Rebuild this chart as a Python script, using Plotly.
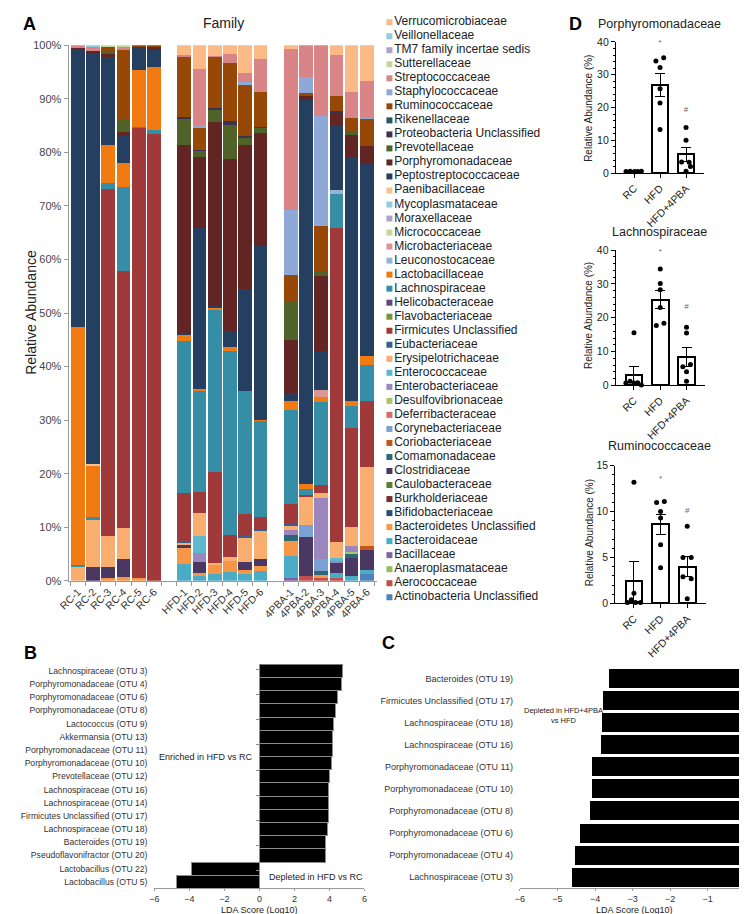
import plotly.graph_objects as go

W, H = 747, 914
FONT = "Arial, Liberation Sans, sans-serif"

# ---- Panel A : family composition (legend order, top to bottom) ----
families = [
    "Verrucomicrobiaceae", "Veillonellaceae", "TM7 family incertae sedis", "Sutterellaceae",
    "Streptococcaceae", "Staphylococcaceae", "Ruminococcaceae", "Rikenellaceae",
    "Proteobacteria Unclassified", "Prevotellaceae", "Porphyromonadaceae", "Peptostreptococcaceae",
    "Paenibacillaceae", "Mycoplasmataceae", "Moraxellaceae", "Micrococcaceae",
    "Microbacteriaceae", "Leuconostocaceae", "Lactobacillaceae", "Lachnospiraceae",
    "Helicobacteraceae", "Flavobacteriaceae", "Firmicutes Unclassified", "Eubacteriaceae",
    "Erysipelotrichaceae", "Enterococcaceae", "Enterobacteriaceae", "Desulfovibrionaceae",
    "Deferribacteraceae", "Corynebacteriaceae", "Coriobacteriaceae", "Comamonadaceae",
    "Clostridiaceae", "Caulobacteraceae", "Burkholderiaceae", "Bifidobacteriaceae",
    "Bacteroidetes Unclassified", "Bacteroidaceae", "Bacillaceae", "Anaeroplasmataceae",
    "Aerococcaceae", "Actinobacteria Unclassified",
]
family_colors = [
    "#FBB986", "#92CDDC", "#B1A0C7", "#C4D79B",
    "#D98587", "#8EA9D8", "#974706", "#215967",
    "#3F3151", "#4F6228", "#632523", "#243F60",
    "#FAC090", "#93CDDD", "#B3A2C7", "#C3D69B",
    "#D99694", "#95B3D7", "#F27A12", "#358DA6",
    "#604A7B", "#76923C", "#A03A3A", "#376092",
    "#F9AD6F", "#5DB8D0", "#9B87BD", "#A9C66B",
    "#CF6E6C", "#7BA0D4", "#C0591C", "#2B6878",
    "#4A3863", "#5E7A2E", "#7A2C2A", "#2C4D75",
    "#F79646", "#4BACC6", "#8064A2", "#9BBB59",
    "#C0504D", "#4F81BD",
]

samples = ["RC-1", "RC-2", "RC-3", "RC-4", "RC-5", "RC-6",
           "HFD-1", "HFD-2", "HFD-3", "HFD-4", "HFD-5", "HFD-6",
           "4PBA-1", "4PBA-2", "4PBA-3", "4PBA-4", "4PBA-5", "4PBA-6"]
sample_pos = [0, 1, 2, 3, 4, 5, 7, 8, 9, 10, 11, 12, 14, 15, 16, 17, 18, 19]
pct_ticks = list(range(0, 101, 10))

# relative abundance (%) per sample
rc1 = {"Erysipelotrichaceae": 2.5, "Lachnospiraceae": 0.5, "Lactobacillaceae": 44.3,
       "Peptostreptococcaceae": 52.0, "Porphyromonadaceae": 0.2, "Streptococcaceae": 0.5}
rc2 = {"Clostridiaceae": 2.6, "Erysipelotrichaceae": 8.7, "Lachnospiraceae": 0.7, "Lactobacillaceae": 9.5,
       "Paenibacillaceae": 0.3, "Peptostreptococcaceae": 76.8, "Porphyromonadaceae": 0.4,
       "Streptococcaceae": 0.6, "Veillonellaceae": 0.4}
rc3 = {"Bacteroidetes Unclassified": 0.5, "Clostridiaceae": 2.0, "Erysipelotrichaceae": 5.8,
       "Firmicutes Unclassified": 64.8, "Lachnospiraceae": 1.1, "Lactobacillaceae": 7.2,
       "Peptostreptococcaceae": 16.4, "Porphyromonadaceae": 0.5, "Prevotellaceae": 0.4,
       "Ruminococcaceae": 1.0, "Sutterellaceae": 0.3}
rc4 = {"Bacteroidetes Unclassified": 0.7, "Clostridiaceae": 3.4, "Erysipelotrichaceae": 5.7,
       "Firmicutes Unclassified": 48.1, "Lachnospiraceae": 15.6, "Lactobacillaceae": 4.5,
       "Peptostreptococcaceae": 5.3, "Porphyromonadaceae": 0.5, "Prevotellaceae": 2.3,
       "Ruminococcaceae": 13.1, "Streptococcaceae": 0.4, "Sutterellaceae": 0.4}
rc5 = {"Bacteroidetes Unclassified": 0.6, "Firmicutes Unclassified": 83.9, "Lachnospiraceae": 0.2,
       "Lactobacillaceae": 10.6, "Peptostreptococcaceae": 4.5, "Ruminococcaceae": 0.2}
rc6 = {"Firmicutes Unclassified": 83.4, "Lachnospiraceae": 0.8, "Lactobacillaceae": 11.8,
       "Peptostreptococcaceae": 3.2, "Porphyromonadaceae": 0.5, "Ruminococcaceae": 0.3}
hfd1 = {"Bacteroidaceae": 3.2, "Bacteroidetes Unclassified": 3.0, "Clostridiaceae": 0.4,
        "Erysipelotrichaceae": 0.4, "Eubacteriaceae": 0.3, "Firmicutes Unclassified": 9.0,
        "Lachnospiraceae": 28.5, "Lactobacillaceae": 1.1, "Peptostreptococcaceae": 0.2,
        "Porphyromonadaceae": 35.2, "Prevotellaceae": 5.0, "Proteobacteria Unclassified": 0.4,
        "Ruminococcaceae": 11.2, "Streptococcaceae": 0.3, "Verrucomicrobiaceae": 1.8}
hfd2 = {"Bacteroidaceae": 0.8, "Bacteroidetes Unclassified": 0.7, "Clostridiaceae": 2.0,
        "Enterobacteriaceae": 1.6, "Enterococcaceae": 3.3, "Erysipelotrichaceae": 4.2,
        "Firmicutes Unclassified": 4.0, "Lachnospiraceae": 18.9, "Lactobacillaceae": 0.4,
        "Peptostreptococcaceae": 30.0, "Porphyromonadaceae": 13.3, "Prevotellaceae": 1.1,
        "Proteobacteria Unclassified": 0.2, "Ruminococcaceae": 4.1, "Staphylococcaceae": 0.6,
        "Streptococcaceae": 10.3, "Verrucomicrobiaceae": 4.5}
hfd3 = {"Bacteroidaceae": 1.3, "Bacteroidetes Unclassified": 1.7, "Erysipelotrichaceae": 0.4,
        "Firmicutes Unclassified": 16.9, "Lachnospiraceae": 30.2, "Lactobacillaceae": 0.4,
        "Peptostreptococcaceae": 0.4, "Porphyromonadaceae": 34.3, "Prevotellaceae": 2.4,
        "Proteobacteria Unclassified": 0.3, "Ruminococcaceae": 9.5, "Streptococcaceae": 0.2,
        "Verrucomicrobiaceae": 2.0}
hfd4 = {"Bacteroidaceae": 1.6, "Bacteroidetes Unclassified": 2.0, "Erysipelotrichaceae": 0.9,
        "Firmicutes Unclassified": 4.1, "Lachnospiraceae": 34.4, "Lactobacillaceae": 0.6,
        "Peptostreptococcaceae": 3.1, "Porphyromonadaceae": 32.1, "Prevotellaceae": 6.4,
        "Proteobacteria Unclassified": 0.7, "Ruminococcaceae": 10.7, "Streptococcaceae": 1.7,
        "Verrucomicrobiaceae": 1.7}
hfd5 = {"Bacteroidaceae": 1.3, "Bacteroidetes Unclassified": 0.7, "Clostridiaceae": 1.5,
        "Erysipelotrichaceae": 4.5, "Eubacteriaceae": 0.3, "Firmicutes Unclassified": 4.2,
        "Lachnospiraceae": 23.0, "Peptostreptococcaceae": 18.9, "Porphyromonadaceae": 26.9,
        "Prevotellaceae": 1.5, "Proteobacteria Unclassified": 0.3, "Ruminococcaceae": 9.5,
        "Staphylococcaceae": 0.5, "Streptococcaceae": 1.7, "Verrucomicrobiaceae": 5.2}
hfd6 = {"Bacteroidaceae": 1.8, "Bacteroidetes Unclassified": 1.0, "Clostridiaceae": 1.2,
        "Erysipelotrichaceae": 5.3, "Eubacteriaceae": 0.3, "Firmicutes Unclassified": 2.3,
        "Lachnospiraceae": 17.9, "Lactobacillaceae": 0.3, "Peptostreptococcaceae": 32.4,
        "Porphyromonadaceae": 21.1, "Prevotellaceae": 1.0, "Proteobacteria Unclassified": 0.2,
        "Ruminococcaceae": 6.4, "Streptococcaceae": 6.3, "Verrucomicrobiaceae": 2.5}
pba1 = {"Bacillaceae": 0.5, "Bacteroidaceae": 4.1, "Bacteroidetes Unclassified": 2.8, "Comamonadaceae": 1.1,
        "Enterobacteriaceae": 0.9, "Erysipelotrichaceae": 0.9, "Eubacteriaceae": 0.3,
        "Firmicutes Unclassified": 3.8, "Lachnospiraceae": 17.4, "Lactobacillaceae": 1.8,
        "Peptostreptococcaceae": 1.4, "Porphyromonadaceae": 10.0, "Prevotellaceae": 7.2,
        "Ruminococcaceae": 4.9, "Staphylococcaceae": 12.2, "Streptococcaceae": 30.0,
        "Verrucomicrobiaceae": 0.7}
pba2 = {"Aerococcaceae": 0.8, "Clostridiaceae": 7.4, "Corynebacteriaceae": 2.3, "Erysipelotrichaceae": 5.1,
        "Firmicutes Unclassified": 0.4, "Lachnospiraceae": 1.2, "Lactobacillaceae": 0.8,
        "Peptostreptococcaceae": 71.7, "Porphyromonadaceae": 0.8, "Ruminococcaceae": 0.5,
        "Staphylococcaceae": 3.0, "Streptococcaceae": 6.0}
pba3 = {"Aerococcaceae": 0.6, "Bacteroidetes Unclassified": 0.5, "Comamonadaceae": 0.8,
        "Corynebacteriaceae": 2.2, "Enterobacteriaceae": 11.4, "Erysipelotrichaceae": 0.9,
        "Firmicutes Unclassified": 1.5, "Lachnospiraceae": 15.5, "Lactobacillaceae": 1.0,
        "Microbacteriaceae": 1.2, "Peptostreptococcaceae": 7.4, "Porphyromonadaceae": 14.0,
        "Prevotellaceae": 0.8, "Ruminococcaceae": 8.4, "Staphylococcaceae": 20.6,
        "Streptococcaceae": 13.2}
pba4 = {"Aerococcaceae": 0.5, "Bacteroidaceae": 0.9, "Clostridiaceae": 2.0, "Enterobacteriaceae": 0.3,
        "Enterococcaceae": 0.5, "Erysipelotrichaceae": 3.0, "Firmicutes Unclassified": 58.7,
        "Lachnospiraceae": 6.3, "Leuconostocaceae": 0.8, "Peptostreptococcaceae": 12.1,
        "Porphyromonadaceae": 2.2, "Proteobacteria Unclassified": 0.4, "Ruminococcaceae": 2.8,
        "Streptococcaceae": 7.7, "Verrucomicrobiaceae": 1.8}
pba5 = {"Bacteroidaceae": 0.8, "Clostridiaceae": 3.4, "Comamonadaceae": 0.8, "Desulfovibrionaceae": 0.3,
        "Enterobacteriaceae": 1.2, "Erysipelotrichaceae": 3.5, "Firmicutes Unclassified": 18.6,
        "Lachnospiraceae": 4.1, "Lactobacillaceae": 0.9, "Peptostreptococcaceae": 45.5,
        "Porphyromonadaceae": 4.1, "Prevotellaceae": 0.6, "Ruminococcaceae": 2.7,
        "Streptococcaceae": 4.8, "Verrucomicrobiaceae": 8.7}
pba6 = {"Actinobacteria Unclassified": 1.2, "Bacteroidaceae": 0.8, "Clostridiaceae": 3.8,
        "Coriobacteriaceae": 0.6, "Erysipelotrichaceae": 14.8, "Firmicutes Unclassified": 12.4,
        "Lachnospiraceae": 6.6, "Lactobacillaceae": 1.8, "Peptostreptococcaceae": 35.9,
        "Porphyromonadaceae": 3.2, "Ruminococcaceae": 5.1, "Staphylococcaceae": 0.3,
        "Streptococcaceae": 6.8, "Verrucomicrobiaceae": 6.7}
composition = [rc1, rc2, rc3, rc4, rc5, rc6, hfd1, hfd2, hfd3, hfd4, hfd5, hfd6,
               pba1, pba2, pba3, pba4, pba5, pba6]

# ---- Panel B : LDA scores HFD vs RC ----
b_labels = ["Lachnospiraceae (OTU 3)", "Porphyromonadaceae (OTU 4)", "Porphyromonadaceae (OTU 6)",
            "Porphyromonadaceae (OTU 8)", "Lactococcus (OTU 9)", "Akkermansia (OTU 13)",
            "Porphyromonadaceae (OTU 11)", "Porphyromonadaceae (OTU 10)", "Prevotellaceae (OTU 12)",
            "Lachnospiraceae (OTU 16)", "Lachnospiraceae (OTU 14)", "Firmicutes Unclassified (OTU 17)",
            "Lachnospiraceae (OTU 18)", "Bacteroides (OTU 19)", "Pseudoflavonifractor (OTU 20)",
            "Lactobacillus (OTU 22)", "Lactobacillus (OTU 5)"]
b_scores = [4.75, 4.68, 4.49, 4.36, 4.21, 4.18, 4.16, 4.12, 4.03, 3.97, 3.95, 3.93, 3.88,
            3.80, 3.80, -3.88, -4.72]

# ---- Panel C : LDA scores HFD+4PBA vs HFD ----
c_labels = ["Bacteroides (OTU 19)", "Firmicutes Unclassified (OTU 17)", "Lachnospiraceae (OTU 18)",
            "Lachnospiraceae (OTU 16)", "Porphyromonadaceae (OTU 11)", "Porphyromonadaceae (OTU 10)",
            "Porphyromonadaceae (OTU 8)", "Porphyromonadaceae (OTU 6)", "Porphyromonadaceae (OTU 4)",
            "Lachnospiraceae (OTU 3)"]
c_scores = [-3.63, -3.78, -3.81, -3.83, -4.07, -4.08, -4.13, -4.39, -4.54, -4.60]

# ---- Panel D : group means, SEM and individual mice ----
groups = ["RC", "HFD", "HFD+4PBA"]
porph_mean = [0.5, 27.0, 5.7]
porph_sem = [0.1, 3.5, 2.1]
porph_pts = [[0.5, 0.6, 0.4, 0.5, 0.6, 0.4], [34.2, 35.2, 32.2, 25.7, 21.4, 13.3], [13.9, 10.0, 3.4, 3.3, 2.0, 0.6]]
porph_jit = [[-0.31, -0.15, 0.0, 0.14, 0.28, 0.05], [-0.16, 0.14, 0.0, 0.0, 0.0, 0.0], [0.0, 0.0, -0.17, 0.12, 0.17, 0.0]]
porph_marks = [39.6, 19.4]
lachno_mean = [3.0, 25.3, 8.3]
lachno_sem = [2.6, 2.7, 2.8]
lachno_pts = [[15.6, 0.7, 1.2, 0.7, 0.8, 0.1], [34.4, 30.1, 28.3, 23.0, 17.7, 18.4], [17.2, 15.5, 5.5, 6.2, 4.0, 1.2]]
lachno_jit = [[0.0, -0.31, -0.15, 0.0, 0.14, 0.28], [0.0, 0.0, 0.0, 0.0, -0.15, 0.14], [0.0, 0.0, -0.14, 0.15, 0.0, 0.0]]
lachno_marks = [39.5, 23.2]
rumino_mean = [2.4, 8.6, 4.0]
rumino_sem = [2.2, 1.1, 1.1]
rumino_pts = [[13.2, 1.1, 0.1, 0.4, 0.1, 0.1], [11.0, 11.1, 10.0, 9.3, 6.4, 3.9], [8.4, 5.0, 5.0, 2.9, 2.7, 0.5]]
rumino_jit = [[0.0, 0.0, -0.25, -0.1, 0.06, 0.25], [-0.15, 0.14, 0.0, 0.0, 0.0, 0.0], [0.0, -0.16, 0.15, -0.16, 0.15, 0.0]]
rumino_marks = [13.5, 10.1]


def xd(a, b):
    return [a / W, b / W]


def yd(top, bottom):
    return [1 - bottom / H, 1 - top / H]


fig = go.Figure()

# stacked bars, bottom of the stack = last legend entry
for fam, col in zip(reversed(families), reversed(family_colors)):
    fig.add_trace(go.Bar(x=sample_pos, y=[s.get(fam, 0) for s in composition], name=fam,
                         marker=dict(color=col, line=dict(width=0)), width=0.9,
                         showlegend=False, xaxis="x", yaxis="y"))

# hand-made legend (tighter spacing than plotly's own)
fig.add_trace(go.Scatter(x=[0] * len(families), y=list(range(len(families))), mode="markers+text",
                         marker=dict(symbol="square", size=6, color=family_colors),
                         text=families, textposition="middle right",
                         textfont=dict(size=12, color="#222", family=FONT),
                         showlegend=False, hoverinfo="skip", xaxis="x2", yaxis="y2", cliponaxis=False))

# panel D
d_sets = [(porph_mean, porph_sem, porph_pts, porph_jit, porph_marks, "3"),
          (lachno_mean, lachno_sem, lachno_pts, lachno_jit, lachno_marks, "4"),
          (rumino_mean, rumino_sem, rumino_pts, rumino_jit, rumino_marks, "5")]
for mean, sem, pts, jit, marks, ax in d_sets:
    fig.add_trace(go.Bar(x=[0, 1, 2], y=mean, width=0.63,
                         marker=dict(color="white", line=dict(color="black", width=2)),
                         error_y=dict(type="data", array=sem, color="black", thickness=1, width=5),
                         showlegend=False, xaxis="x" + ax, yaxis="y" + ax))
    xs, ys = [], []
    for g in range(3):
        xs += [g + j for j in jit[g]]
        ys += pts[g]
    fig.add_trace(go.Scatter(x=xs, y=ys, mode="markers", marker=dict(color="black", size=5),
                             showlegend=False, xaxis="x" + ax, yaxis="y" + ax, cliponaxis=False))
    fig.add_trace(go.Scatter(x=[1, 2], y=marks, mode="text", text=["*", "#"],
                             textfont=dict(size=8, color="#666", family=FONT),
                             showlegend=False, xaxis="x" + ax, yaxis="y" + ax, cliponaxis=False))

# panels B and C
fig.add_trace(go.Bar(x=b_scores, y=b_labels, orientation="h", width=1.0,
                     marker=dict(color="black", line=dict(color="#8c8c8c", width=1)),
                     showlegend=False, xaxis="x6", yaxis="y6"))
fig.add_trace(go.Bar(x=c_scores, y=c_labels, orientation="h", width=0.86,
                     marker=dict(color="black", line=dict(width=0)),
                     showlegend=False, xaxis="x7", yaxis="y7"))
# empty traces that carry the category axes drawn at x = 0 (ticks between rows)
fig.add_trace(go.Scatter(x=[0] * len(b_labels), y=b_labels, mode="none", hoverinfo="skip",
                         showlegend=False, xaxis="x6", yaxis="y8"))
fig.add_trace(go.Scatter(x=[0] * len(c_labels), y=c_labels, mode="none", hoverinfo="skip",
                         showlegend=False, xaxis="x7", yaxis="y9"))

tick_font = dict(size=11, color="#444", family=FONT)
d_tick = dict(size=10.5, color="#222", family=FONT)
lda_font = dict(size=9, color="#333", family=FONT)

layout = dict(
    width=W, height=H, margin=dict(l=0, r=0, t=0, b=0),
    paper_bgcolor="white", plot_bgcolor="white", barmode="stack",
    font=dict(family=FONT, color="#222"),
    # panel A
    xaxis=dict(domain=xd(50.5, 365), range=[-0.613, 19.68], tickvals=sample_pos, ticktext=samples,
               tickangle=-45, tickfont=dict(size=10.5, color="#333", family=FONT),
               showline=True, linecolor="#9a9a9a", ticks="", showgrid=False, zeroline=False,
               minor=dict(tick0=-0.5, dtick=1, ticks="outside", ticklen=4, tickcolor="#9a9a9a"),
               anchor="y"),
    yaxis=dict(domain=yd(31.7, 574.3), range=[0, 100], tickvals=pct_ticks,
               ticktext=["%d%%" % v for v in pct_ticks],
               ticks="outside", ticklen=4, tickcolor="#9a9a9a", showline=True, linecolor="#9a9a9a",
               tickfont=tick_font, showgrid=False, zeroline=False, anchor="x"),
    # legend area
    xaxis2=dict(domain=xd(372, 560), range=[-5.5, 182.5], visible=False, anchor="y2"),
    yaxis2=dict(domain=yd(1.2, 598.1), range=[41.5, -0.5], visible=False, anchor="x2"),
    # panel B
    xaxis6=dict(domain=xd(138, 352), range=[-6, 6], tickvals=list(range(-6, 7, 2)), ticks="outside",
                ticklen=2, tickcolor="#9a9a9a", showline=True, linecolor="#9a9a9a", showgrid=False,
                zeroline=False, tickfont=lda_font, anchor="y6"),
    yaxis6=dict(domain=yd(659, 886), type="category", categoryorder="array", categoryarray=b_labels,
                autorange="reversed", showline=False, showgrid=False, ticks="", ticklabelstandoff=6,
                tickfont=dict(size=8.6, color="#333", family=FONT), anchor="x6"),
    yaxis8=dict(overlaying="y6", anchor="free", position=245 / W, side="left", type="category",
                categoryorder="array", categoryarray=b_labels, autorange="reversed",
                showline=True, linecolor="#8c8c8c", ticks="outside", ticklen=3, tickcolor="#8c8c8c",
                tickson="boundaries", showticklabels=False, showgrid=False),
    # panel C
    xaxis7=dict(domain=xd(510.5, 740), range=[-6, 0], tickvals=list(range(-6, 1)), ticks="outside",
                ticklen=2, tickcolor="#9a9a9a", showline=True, linecolor="#9a9a9a", showgrid=False,
                zeroline=False, tickfont=lda_font, anchor="y7"),
    yaxis7=dict(domain=yd(662, 886), type="category", categoryorder="array", categoryarray=c_labels,
                autorange="reversed", showline=False, showgrid=False, ticks="", ticklabelstandoff=6,
                tickfont=dict(size=9, color="#333", family=FONT), anchor="x7"),
    yaxis9=dict(overlaying="y7", anchor="x7", side="right", type="category",
                categoryorder="array", categoryarray=c_labels, autorange="reversed",
                showline=True, linecolor="#8c8c8c", ticks="outside", ticklen=3, tickcolor="#8c8c8c",
                tickson="boundaries", showticklabels=False, showgrid=False),
)

# panel D axes
d_boxes = [("3", 608.3, 698.3, 28.3, 161.3, 40, 10, 2),
           ("4", 608.0, 699.0, 239.3, 376.3, 40, 10, 2),
           ("5", 607.7, 700.0, 457.7, 597.3, 15, 5, 1)]
for ax, x0, x1, top, bot, ymax, dt, mdt in d_boxes:
    layout["xaxis" + ax] = dict(domain=xd(x0, x1), range=[-0.7, 2.7], tickvals=[0, 1, 2], ticktext=groups,
                                tickangle=-45, ticks="outside", ticklen=4, tickcolor="black",
                                showline=True, linecolor="black", linewidth=1, showgrid=False,
                                zeroline=False, tickfont=d_tick, anchor="y" + ax)
    layout["yaxis" + ax] = dict(domain=yd(top, bot), range=[0, ymax], dtick=dt, ticks="outside", ticklen=4,
                                tickcolor="black", showline=True, linecolor="black", linewidth=1,
                                showgrid=False, zeroline=False, tickfont=d_tick,
                                minor=dict(dtick=mdt, ticks="outside", ticklen=2, tickcolor="black"),
                                anchor="x" + ax)

fig.update_layout(**layout)


def note(text, x, y, size, xanchor="center", angle=0, bold=False, color="#222"):
    fig.add_annotation(text="<b>%s</b>" % text if bold else text, x=x / W, y=1 - y / H,
                       xref="paper", yref="paper", showarrow=False, xanchor=xanchor, yanchor="middle",
                       textangle=angle, font=dict(size=size, color=color, family=FONT))


# titles and labels
note("Family", 208, 9, 14)
note("Relative Abundance", 12, 302, 14, angle=-90)
note("A", 11, 10, 18, bold=True, color="black")
note("D", 567, 10, 18, bold=True, color="black")
note("B", 12, 648, 18, bold=True, color="black")
note("C", 377, 637, 18, bold=True, color="black")
note("Porphyromonadaceae", 653, 10, 12.5)
note("Lachnospiraceae", 653, 221, 12.5)
note("Ruminococcaceae", 653, 438, 12.5)
note("Relative Abundance (%)", 581, 96, 10, angle=-90)
note("Relative Abundance (%)", 581, 306, 10, angle=-90)
note("Relative Abundance (%)", 581, 526, 10, angle=-90)
note("Enriched in HFD vs RC", 240, 753, 9, xanchor="right")
note("Depleted in HFD vs RC", 253, 874, 9, xanchor="left")
note("LDA Score (Log10)", 245, 908, 9)
note("Depleted in HFD+4PBA<br>vs HFD", 555, 711, 7.5)
note("LDA Score (Log10)", 627, 908, 9)

fig.write_html("out.html")
